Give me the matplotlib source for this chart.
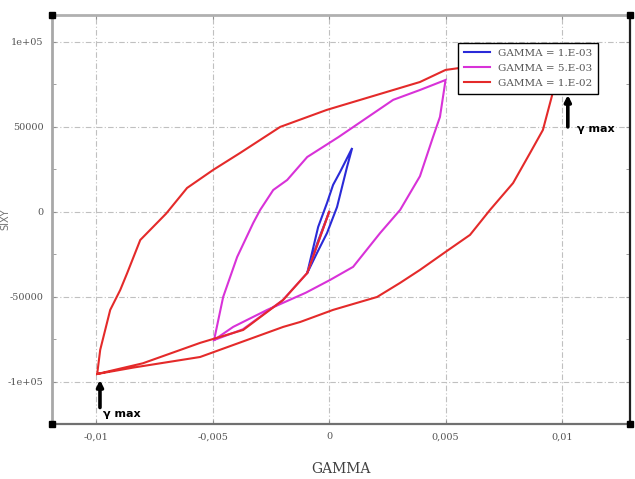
import matplotlib
matplotlib.use("Agg")
import matplotlib.pyplot as plt
from matplotlib.ticker import FixedLocator, MultipleLocator

# Hysteresis loops: shear stress vs shear strain (GAMMA)
labels = ["GAMMA = 1.E-03", "GAMMA = 5.E-03", "GAMMA = 1.E-02"]
colors = ["#2a2ad8", "#d832d8", "#e42a2a"]

# gamma = 1e-3 : initial loading, upward branch, downward branch
g1_x = [0.0, -0.00050, -0.00094,
        -0.00047, -0.00009, 0.00017, 0.00047, 0.00099,
        0.00077, 0.00034, -0.00009, -0.00052, -0.00094]
g1_y = [0, -18000, -35900,
        -8800, 5300, 15900, 23500, 37600,
        26500, 2900, -12400, -24100, -35900]

# gamma = 5e-3
g5_x = [0.0, -0.00094, -0.0020, -0.0037, -0.00494,
        -0.00455, -0.00395, -0.00326, -0.00296, -0.0024, -0.0018, -0.00094,
        0.00040, 0.00275, 0.0039, 0.0050,
        0.00476, 0.00446, 0.0039, 0.00305, 0.00219, 0.00103, 0.00004,
        -0.00100, -0.00266, -0.00412, -0.00494]
g5_y = [0, -35900, -52000, -69000, -75300,
        -50000, -26500, -6500, 1200, 12900, 18800, 32300,
        44000, 65900, 71700, 77600,
        55900, 44000, 21000, 1200, -12400, -32300, -40000,
        -47500, -57600, -67600, -75300]

# gamma = 1e-2
g10_x = [0.0, -0.00094, -0.00197, -0.00369, -0.00554, -0.0080, -0.00996,
         -0.00983, -0.0094, -0.00897, -0.00867, -0.00811, -0.00700, -0.0061,
         -0.00498, -0.00382, -0.0021, -0.0001, 0.0039, 0.0050, 0.0100,
         0.00956, 0.00918, 0.00863, 0.0079, 0.00691, 0.00605, 0.0050,
         0.0039, 0.00305, 0.00206, 0.00017, -0.00124, -0.00197, -0.00554,
         -0.0084, -0.00996]
g10_y = [0, -35900, -51700, -69400, -77000, -89000, -95300,
         -81100, -57600, -45900, -35900, -16500, -1000, 14100,
         24700, 34700, 50000, 60000, 76400, 83500, 93000,
         67800, 48200, 34700, 17000, 1200, -13500, -23500,
         -34100, -41700, -50000, -57600, -64700, -67600, -85300,
         -91500, -95300]

x_ticks = [-0.01, -0.005, 0.0, 0.005, 0.01]
x_tick_labels = ["-0,01", "-0,005", "0", "0,005", "0,01"]
y_ticks = [-100000, -50000, 0, 50000, 100000]
y_tick_labels = ["-1e+05", "-50000", "0", "50000", "1e+05"]

W, H = 635, 479
fig = plt.figure(figsize=(W / 100, H / 100), dpi=100)
ax = fig.add_axes([52 / W, 1 - 424 / H, 578 / W, 409 / H])

for xs, ys, c, lab in zip([g1_x, g5_x, g10_x], [g1_y, g5_y, g10_y], colors, labels):
    ax.plot(xs, ys, color=c, lw=1.5, label=lab, solid_joinstyle="miter")

ax.set_xlim(-0.01190, 0.01292)
ax.set_ylim(-124700, 115800)

ax.xaxis.set_major_locator(FixedLocator(x_ticks))
ax.set_xticklabels(x_tick_labels)
ax.yaxis.set_major_locator(FixedLocator(y_ticks))
ax.set_yticklabels(y_tick_labels)
ax.yaxis.set_minor_locator(MultipleLocator(25000))

ax.grid(True, which="major", color="#c0c0c0", lw=0.8, ls=(0, (5, 2, 1, 2)))
ax.tick_params(axis="both", which="both", direction="in", colors="#909090",
               labelcolor="#555555", labelsize=7, right=True, top=True)
ax.tick_params(axis="both", which="major", length=3, pad=6)
ax.tick_params(axis="both", which="minor", length=3)
for lbl in ax.get_xticklabels() + ax.get_yticklabels():
    lbl.set_family("DejaVu Serif")

ax.spines["left"].set_color("#a8a8a8")
ax.spines["left"].set_linewidth(2)
ax.spines["top"].set_color("#b0b0b0")
ax.spines["top"].set_linewidth(2)
ax.spines["bottom"].set_color("#707070")
ax.spines["bottom"].set_linewidth(1.6)
ax.spines["right"].set_color("#202020")
ax.spines["right"].set_linewidth(1.6)

# black squares at the frame corners
for cx, cy in [(0, 0), (0, 1), (1, 0), (1, 1)]:
    ax.plot(cx, cy, marker="s", ms=5, color="black", transform=ax.transAxes,
            clip_on=False, zorder=5)

ax.set_xlabel("GAMMA", family="DejaVu Serif", fontsize=10, color="#404040",
              labelpad=15)
ax.set_ylabel("SIXY", family="DejaVu Sans", fontsize=7, color="#707070")
ax.yaxis.set_label_coords(-0.072, 0.5)

leg = ax.legend(loc="upper left", bbox_to_anchor=(458 / W, 1 - 43 / H),
                bbox_transform=fig.transFigure, borderaxespad=0,
                fancybox=False, edgecolor="black", framealpha=1,
                prop={"family": "DejaVu Serif", "size": 7.5},
                handlelength=2.5, labelspacing=0.55, borderpad=0.55)
for t in leg.get_texts():
    t.set_color("#555555")
leg.get_frame().set_linewidth(1.0)

# gamma max markers
arrow = dict(arrowstyle="-|>", lw=2.6, color="black", mutation_scale=9,
             shrinkA=0, shrinkB=0)
ax.annotate("", xy=(-0.00984, -98800), xytext=(-0.00984, -115000),
            arrowprops=arrow)
ax.text(-0.0097, -119000, "\u03b3 max", fontsize=8, fontweight="bold",
        ha="left", va="center")
ax.annotate("", xy=(0.01025, 68800), xytext=(0.01025, 50000),
            arrowprops=arrow)
ax.text(0.01064, 48800, "\u03b3 max", fontsize=8, fontweight="bold",
        ha="left", va="center")

fig.savefig("out.png", dpi=100)
